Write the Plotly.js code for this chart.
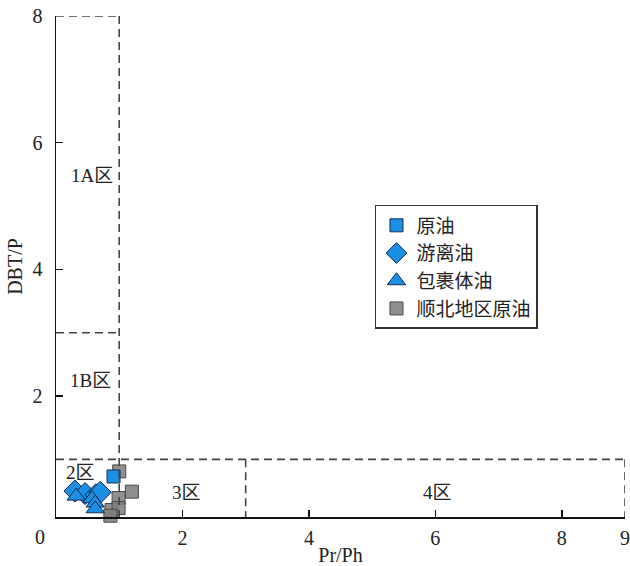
<!DOCTYPE html>
<html><head><meta charset="utf-8">
<script src="https://cdn.plot.ly/plotly-3.0.1.min.js"></script>
<style>body{margin:0;background:#fff}#chart{width:630px;height:566px}</style>
</head><body><div id="chart"></div>
<script>
// Data (Pr/Ph vs DBT/P)
const crudeX = [0.91];
const crudeY = [0.73];
const freeX = [0.30, 0.46, 0.63, 0.70];
const freeY = [0.50, 0.46, 0.44, 0.48];
const inclX = [0.32, 0.57, 0.62, 0.62];
const inclY = [0.42, 0.38, 0.31, 0.22];
const sbX = [1.00, 1.20, 0.99, 0.88, 0.99, 0.86];
const sbY = [0.81, 0.49, 0.39, 0.20, 0.23, 0.11];
const seriesNames = ['原油', '游离油', '包裹体油', '顺北地区原油'];
// zone boundaries
const zoneX = [1, 3, 9];
const zoneY = [1, 3, 8];
const zoneLabels = ['1A区', '1B区', '2区', '3区', '4区'];
const zoneLabelX = [0.57, 0.55, 0.39, 2.06, 6.03];
const zoneLabelY = [5.48, 2.25, 0.80, 0.48, 0.48];
const xTicks = [2, 4, 6, 8, 9];
const yTicks = [2, 4, 6, 8];

const FONT = 'Liberation Serif, Times New Roman, Noto Sans CJK SC, serif';
const blue = '#1a8fe6';
const yMin = 0.09;

const traces = [
  {x: sbX, y: sbY, name: seriesNames[3], legendrank: 4, type: 'scatter', mode: 'markers', cliponaxis: false,
   marker: {symbol: 'square', size: 13, color: 'rgba(128,128,128,0.88)', line: {color: '#4a4a4a', width: 1}}},
  {x: freeX, y: freeY, name: seriesNames[1], legendrank: 2, type: 'scatter', mode: 'markers', cliponaxis: false,
   marker: {symbol: 'diamond', size: 17, color: blue, line: {color: '#1a2a50', width: 1}}},
  {x: inclX, y: inclY, name: seriesNames[2], legendrank: 3, type: 'scatter', mode: 'markers', cliponaxis: false,
   marker: {symbol: 'triangle-up', size: 16, color: blue, line: {color: '#1a2a50', width: 1}}},
  {x: crudeX, y: crudeY, name: seriesNames[0], legendrank: 1, type: 'scatter', mode: 'markers', cliponaxis: false,
   marker: {symbol: 'square', size: 13, color: blue, line: {color: '#1a2a50', width: 1}}}
];

const dash = {color: '#444', width: 1.6, dash: '8px,5px'};
const shapes = [
  {type: 'line', x0: 0, x1: zoneX[0], y0: zoneY[2], y1: zoneY[2]},
  {type: 'line', x0: zoneX[0], x1: zoneX[0], y0: zoneY[2], y1: yMin},
  {type: 'line', x0: 0, x1: zoneX[0], y0: zoneY[1], y1: zoneY[1]},
  {type: 'line', x0: 0, x1: zoneX[2], y0: zoneY[0], y1: zoneY[0]},
  {type: 'line', x0: zoneX[1], x1: zoneX[1], y0: zoneY[0], y1: yMin},
  {type: 'line', x0: zoneX[2], x1: zoneX[2], y0: zoneY[0], y1: yMin}
].map(s => Object.assign(s, {xref: 'x', yref: 'y', line: dash, layer: 'above'}));

const annotations = zoneLabels.map((t, i) => ({
  x: zoneLabelX[i], y: zoneLabelY[i], xref: 'x', yref: 'y', text: t, showarrow: false,
  font: {family: FONT, size: 19, color: '#222'}
}));
annotations.push({x: -0.028, y: -0.04, xref: 'paper', yref: 'paper', text: '0', showarrow: false,
  xanchor: 'center', yanchor: 'middle', font: {family: FONT, size: 20, color: '#222'}});

const layout = {
  width: 630, height: 566,
  margin: {l: 56, r: 5, t: 16, b: 49},
  paper_bgcolor: '#fff', plot_bgcolor: '#fff',
  font: {family: FONT, size: 20, color: '#222'},
  showlegend: true,
  legend: {x: 0.5606, y: 0.6228, xanchor: 'left', yanchor: 'top',
    bordercolor: '#333', borderwidth: 1.5, bgcolor: '#fff',
    font: {family: FONT, size: 19, color: '#222'}, tracegroupgap: 0},
  xaxis: {range: [0, 9], tickvals: xTicks, ticktext: xTicks.map(String),
    showgrid: false, zeroline: false, showline: true, linecolor: '#111', linewidth: 1.5,
    ticks: 'inside', ticklen: 7, tickcolor: '#111', tickwidth: 1.5, mirror: false,
    ticklabelstandoff: 2,
    title: {text: 'Pr/Ph', font: {family: FONT, size: 20}, standoff: 13}},
  yaxis: {range: [yMin, 8], tickvals: yTicks, ticktext: yTicks.map(String),
    showgrid: false, zeroline: false, showline: true, linecolor: '#111', linewidth: 1.5,
    ticks: 'inside', ticklen: 7, tickcolor: '#111', tickwidth: 1.5, mirror: false,
    ticklabelstandoff: 8,
    title: {text: 'DBT/P', font: {family: FONT, size: 20}, standoff: 4}},
  shapes: shapes,
  annotations: annotations
};

Plotly.newPlot('chart', traces, layout, {displayModeBar: false, staticPlot: true});
</script>
</body></html>
